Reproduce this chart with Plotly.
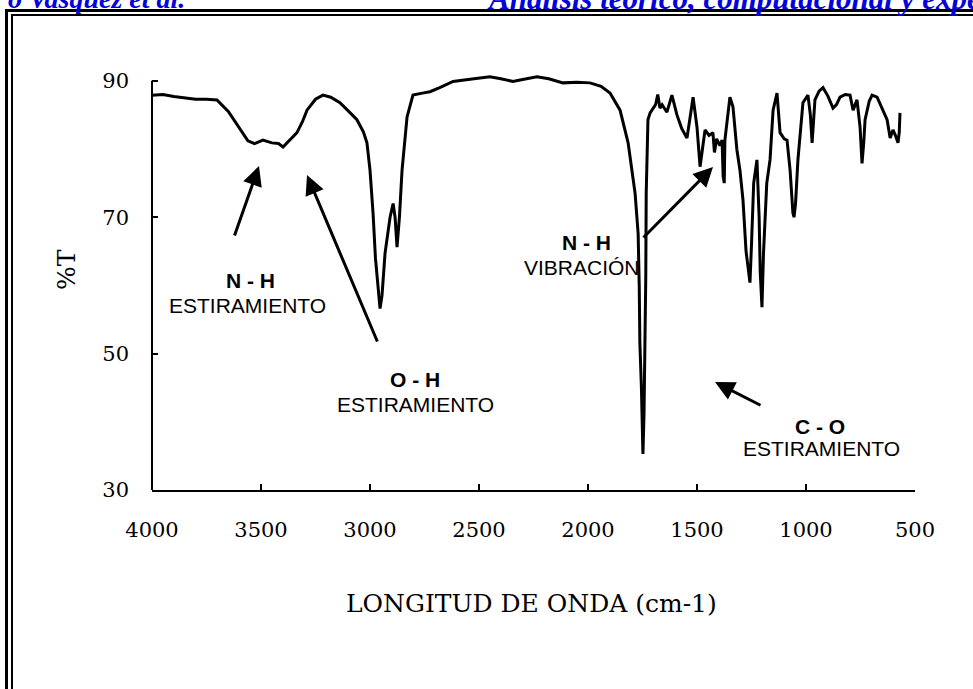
import plotly.graph_objects as go

# ---------------- data ----------------
wavenumber = [4000, 3950, 3900, 3850, 3800, 3750, 3702, 3650, 3600, 3560, 3530, 3491, 3450,
              3420, 3399, 3370, 3335, 3310, 3289, 3250, 3216, 3180, 3138, 3100, 3060, 3030,
              3014, 3000, 2986, 2975, 2965, 2954, 2945, 2931, 2908, 2894, 2885, 2876, 2865,
              2853, 2830, 2803, 2760, 2725, 2680, 2619, 2550, 2500, 2450, 2400, 2344, 2300,
              2234, 2180, 2115, 2050, 1991, 1940, 1899, 1853, 1816, 1784, 1770, 1765, 1762,
              1755, 1750, 1748, 1743, 1740, 1738, 1735, 1733, 1725, 1715, 1700, 1690, 1680,
              1670, 1660, 1638, 1615, 1592, 1570, 1546, 1530, 1518, 1500, 1486, 1475, 1463,
              1445, 1427, 1420, 1410, 1395, 1385, 1380, 1375, 1372, 1360, 1349, 1335, 1317,
              1303, 1289, 1275, 1265, 1257, 1250, 1240, 1225, 1215, 1210, 1202, 1195, 1180,
              1165, 1151, 1133, 1119, 1100, 1087, 1073, 1060, 1055, 1048, 1037, 1014, 991,
              980, 972, 965, 959, 940, 922, 900, 876, 860, 844, 820, 798, 784, 766, 752, 743,
              735, 729, 710, 697, 674, 650, 628, 614, 601, 590, 578, 572, 569]
transmittance = [87.9, 88.0, 87.7, 87.5, 87.3, 87.3, 87.2, 85.5, 83.2, 81.2, 80.8, 81.3, 80.9,
                 80.8, 80.3, 81.2, 82.4, 84.0, 85.7, 87.3, 87.9, 87.6, 86.8, 85.6, 84.3, 82.5,
                 80.9, 76.9, 70.6, 64.0, 60.0, 56.6, 58.5, 64.7, 70.0, 72.0, 70.0, 65.6, 70.0,
                 76.9, 84.7, 87.9, 88.2, 88.4, 89.0, 89.9, 90.2, 90.4, 90.6, 90.3, 89.9, 90.2,
                 90.6, 90.3, 89.7, 89.8, 89.7, 89.2, 88.2, 85.7, 80.9, 73.5, 67.6, 60.0, 51.5,
                 45.0, 40.0, 35.3, 41.2, 47.0, 53.8, 61.2, 73.5, 84.3, 85.3, 86.0, 86.5, 88.0,
                 86.0, 86.5, 85.4, 87.9, 85.0, 83.0, 81.6, 85.0, 87.6, 83.2, 77.4, 80.0, 82.8,
                 82.0, 82.4, 79.5, 81.5, 80.5, 81.3, 76.0, 75.0, 81.3, 85.0, 87.6, 86.2, 79.9,
                 76.9, 72.5, 65.0, 62.0, 60.4, 66.0, 75.0, 78.4, 70.0, 62.0, 56.8, 64.7, 75.0,
                 78.4, 85.7, 88.2, 82.4, 81.5, 81.3, 76.9, 70.6, 70.0, 72.0, 78.4, 86.8, 87.9,
                 85.0, 80.9, 84.0, 87.2, 88.5, 89.0, 87.8, 86.0, 86.5, 87.6, 88.0, 87.9, 85.7,
                 87.2, 83.2, 77.9, 81.0, 84.3, 87.0, 87.9, 87.6, 86.0, 84.3, 81.6, 82.8, 82.0,
                 80.9, 82.5, 85.3]
x_ticks = [4000, 3500, 3000, 2500, 2000, 1500, 1000, 500]
y_ticks = [30, 50, 70, 90]
x_title = "LONGITUD DE ONDA (cm-1)"
y_title = "%T"
header_left = "o Vasquez et al."
header_right = "Análisis teórico, computacional y experimental"

# ---------------- layout geometry (pixels) ----------------
W, H = 973, 689
PL, PR, PT, PB = 152, 915, 74, 490


def px_x(px):
    return (px - PL) / (PR - PL)


def px_y(py):
    return (PB - py) / (PB - PT)


fig = go.Figure()
fig.add_trace(go.Scatter(x=wavenumber, y=transmittance, mode="lines",
                         line=dict(color="black", width=3), hoverinfo="skip"))

serif = "DejaVu Serif"
sans = "Liberation Sans"

fig.update_layout(
    width=W, height=H,
    margin=dict(l=PL, r=W - PR, t=PT, b=H - PB, pad=0),
    paper_bgcolor="white", plot_bgcolor="white", showlegend=False,
    xaxis=dict(range=[4000, 500], tickvals=x_ticks, ticks="inside", ticklen=6, tickwidth=2,
               tickcolor="black", showline=True, linecolor="black", linewidth=2,
               showgrid=False, zeroline=False, ticklabelstandoff=20,
               tickfont=dict(family=serif, size=21, color="black")),
    yaxis=dict(range=[30, 91], tickvals=y_ticks, ticks="inside", ticklen=6, tickwidth=2,
               tickcolor="black", showline=False, showgrid=False, zeroline=False,
               ticklabelstandoff=22,
               tickfont=dict(family=serif, size=21, color="black")),
)

# y axis line only from 30 to 90
fig.add_shape(type="line", xref="paper", yref="y", x0=0, x1=0, y0=30, y1=90,
              line=dict(color="black", width=2))

# double frame
fig.add_shape(type="rect", xref="paper", yref="paper",
              x0=px_x(6.5), x1=px_x(1200), y0=px_y(10.5), y1=px_y(1000),
              line=dict(color="black", width=3))
fig.add_shape(type="rect", xref="paper", yref="paper",
              x0=px_x(12), x1=px_x(1200), y0=px_y(15), y1=px_y(1000),
              line=dict(color="black", width=2))

ann = []
# axis titles
ann.append(dict(text=x_title, x=px_x(531), y=px_y(603), font=dict(family=serif, size=25)))
ann.append(dict(text=y_title, x=px_x(66), y=px_y(270), textangle=-90,
                font=dict(family=serif, size=25)))

# band labels
labels = [
    ("<b>N - H</b>", 250, 280), ("ESTIRAMIENTO", 247, 305),
    ("<b>O - H</b>", 415, 379), ("ESTIRAMIENTO", 415, 404),
    ("<b>N - H</b>", 586, 242), ("VIBRACIÓN", 582, 267),
    ("<b>C - O</b>", 820, 426), ("ESTIRAMIENTO", 821, 448),
]
for t, cx, cy in labels:
    ann.append(dict(text=t, x=px_x(cx), y=px_y(cy), font=dict(family=sans, size=21)))

# arrows: head (x,y) and tail (x,y) in pixels
arrows = [((259, 166), (234, 237)), ((307, 175), (378, 343)),
          ((713, 167), (642, 239)), ((715, 382), (762, 406))]
for (hx, hy), (tx, ty) in arrows:
    ann.append(dict(text="", x=px_x(hx), y=px_y(hy), showarrow=True, ax=tx - hx, ay=ty - hy,
                    arrowhead=2, arrowsize=1.3, arrowwidth=3, arrowcolor="black", standoff=0))

# header texts (cut off at top of page, as in the reference)
ann.append(dict(text="<b><i>" + header_left + "</i></b>", x=px_x(187), y=px_y(-2),
                xanchor="right", yanchor="middle",
                font=dict(family="Liberation Serif", size=28, color="#0000e0")))
ann.append(dict(text="<b><i>" + header_right + "</i></b>", x=px_x(485), y=px_y(-2),
                xanchor="left", yanchor="middle",
                font=dict(family="Liberation Serif", size=31, color="#0000e0")))

for a in ann:
    a.setdefault("xref", "paper")
    a.setdefault("yref", "paper")
    a.setdefault("showarrow", False)
    a.setdefault("xanchor", "center")
    a.setdefault("yanchor", "middle")
    a.setdefault("font", {})
    a["font"].setdefault("color", "black")
    fig.add_annotation(**a)

fig.write_html("out.html", config={"displayModeBar": False},
               post_script="document.body.style.margin='0';document.body.style.overflow='hidden';")
